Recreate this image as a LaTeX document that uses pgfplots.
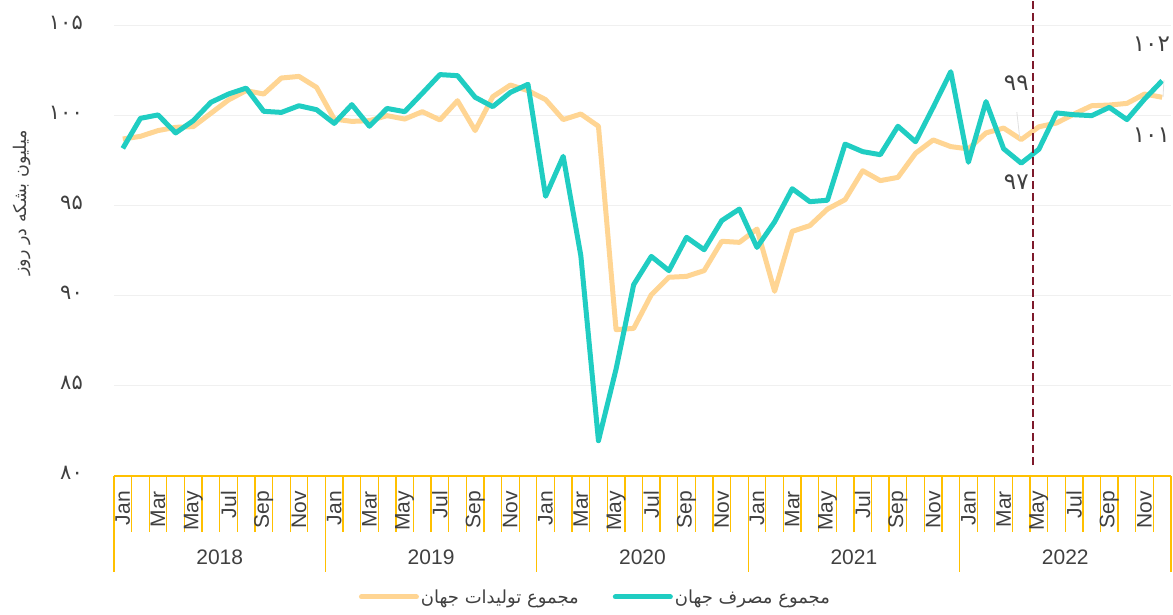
\documentclass[border=0pt]{standalone}
\usepackage{fontspec}
\setmainfont{Liberation Sans}
\newfontfamily\fa[Script=Arabic]{DejaVu Sans}
\TeXXeTstate=1
\usepackage{pgfplots}
\pgfplotsset{compat=1.18}
\definecolor{gold}{HTML}{FFC000}
\definecolor{teal2}{HTML}{20CDC2}
\definecolor{peach}{HTML}{FFD593}
\definecolor{maroon}{HTML}{7E1A2C}
\definecolor{txt}{HTML}{404040}
\begin{document}
\begin{tikzpicture}
\begin{axis}[
 scale only axis, width=1057pt, height=450pt,
 xmin=-0.5, xmax=59.5, ymin=80, ymax=105,
 axis line style={draw=none},
 ytick={80,85,90,95,100,105},
 yticklabels={۸۰,۸۵,۹۰,۹۵,۱۰۰,۱۰۵},
 yticklabel style={font=\fa\fontsize{21}{24}\selectfont, text=txt, anchor=east, inner sep=0pt, xshift=-31pt, yshift=3pt},
 ymajorgrids, grid style={draw=black!6, line width=1pt},
 major tick length=0pt, tick style={draw=none},
 xtick=\empty,
 ylabel={\fa\fontsize{17.5}{20}\selectfont\beginR میلیون بشکه در روز\endR},
 every axis y label/.style={at={(axis description cs:-0.087,0.607)}, rotate=90, anchor=center, text=txt},
 clip=false,
 legend columns=2,
 legend style={at={(axis description cs:0.4555,0)}, anchor=center, yshift=-121pt, draw=none, fill=none, font=\fa\fontsize{18}{21}\selectfont, text=txt, /tikz/every even column/.append style={column sep=32pt}},
 legend image code/.code={\draw[#1, line cap=round] (0pt,0pt) -- (55pt,0pt);},
]
\addplot[peach, line width=5pt, line join=round] coordinates {
(0,98.72) (1,98.87) (2,99.19) (3,99.37) (4,99.41) (5,100.15) (6,100.89) (7,101.41) (8,101.22) (9,102.11)
(10,102.2) (11,101.59) (12,99.83) (13,99.7) (14,99.74) (15,100.02) (16,99.83) (17,100.24) (18,99.78) (19,100.85)
(20,99.19) (21,101.07) (22,101.72) (23,101.41) (24,100.91) (25,99.8) (26,100.11) (27,99.43) (28,88.13) (29,88.2)
(30,90.07) (31,91.04) (32,91.09) (33,91.41) (34,93.04) (35,92.98) (36,93.72) (37,90.26) (38,93.59) (39,93.91)
(40,94.83) (41,95.35) (42,96.96) (43,96.41) (44,96.59) (45,97.93) (46,98.67) (47,98.3) (48,98.17) (49,99.06)
(50,99.33) (51,98.69) (52,99.4) (53,99.61) (54,100.11) (55,100.57) (56,100.61) (57,100.7) (58,101.22) (59,101.04)
};
\addlegendentry{\beginR مجموع تولیدات جهان\endR}
\addplot[teal2, line width=5pt, line join=round] coordinates {
(0,98.2) (1,99.87) (2,100.06) (3,99.06) (4,99.74) (5,100.76) (6,101.22) (7,101.55) (8,100.26) (9,100.2)
(10,100.57) (11,100.35) (12,99.59) (13,100.63) (14,99.43) (15,100.42) (16,100.24) (17,101.26) (18,102.3) (19,102.24)
(20,101.04) (21,100.52) (22,101.31) (23,101.76) (24,95.54) (25,97.76) (26,92.24) (27,81.96) (28,85.94) (29,90.63)
(30,92.2) (31,91.41) (32,93.26) (33,92.57) (34,94.19) (35,94.83) (36,92.7) (37,94.12) (38,95.96) (39,95.24)
(40,95.32) (41,98.44) (42,98.02) (43,97.85) (44,99.43) (45,98.57) (46,100.48) (47,102.46) (48,97.43) (49,100.8)
(50,98.18) (51,97.38) (52,98.15) (53,100.17) (54,100.07) (55,100.02) (56,100.48) (57,99.8) (58,100.94) (59,101.96)
};
\addlegendentry{\beginR مجموع مصرف جهان\endR}
\pgfplotsextra{
 \draw[gold, line width=1.5pt] (axis cs:-0.5,80) -- (axis cs:59.5,80);
 \foreach \b in {-0.5,0.5,...,59.5} {\draw[gold, line width=1.3pt] (axis cs:\b,80) -- ++(0pt,-56pt);}
 \foreach \b in {-0.5,11.5,23.5,35.5,47.5,59.5} {\draw[gold, line width=1.3pt] (axis cs:\b,80) -- ++(0pt,-96pt);}
 \foreach \x/\m in {0/Jan,2/Mar,4/May,6/Jul,8/Sep,10/Nov} {
   \foreach \y in {0,12,24,36,48} {
     \pgfmathsetmacro\xx{\x+\y}
     \path (axis cs:\xx,80) ++(0pt,-15pt) node[rotate=90, anchor=east, inner sep=0pt, font=\fontsize{21}{24}\selectfont, text=txt] {\m};
   }
 }
 \foreach \c/\yr in {5.5/2018,17.5/2019,29.5/2020,41.5/2021,53.5/2022} {
   \path (axis cs:\c,80) ++(0pt,-81pt) node[font=\fontsize{21}{24}\selectfont, text=txt] {\yr};
 }
 \draw[maroon, line width=2.2pt, dash pattern=on 8pt off 4pt] (axis cs:51.66,80.6) -- (axis cs:51.66,106.44);
 \draw[black!12, line width=0.8pt] (axis cs:50.75,100.22) -- (axis cs:50.92,98.72);
 \draw[black!12, line width=0.8pt] (axis cs:59.05,101.05) -- (axis cs:59.1,102.0);
 \node[font=\fa\fontsize{23}{26}\selectfont, text=txt, anchor=east, inner sep=0pt] at (axis cs:51.43,101.8) {۹۹};
 \node[font=\fa\fontsize{23}{26}\selectfont, text=txt, anchor=east, inner sep=0pt] at (axis cs:51.43,96.3) {۹۷};
 \node[font=\fa\fontsize{23}{26}\selectfont, text=txt, anchor=east, inner sep=0pt] at (axis cs:59.45,104) {۱۰۲};
 \node[font=\fa\fontsize{23}{26}\selectfont, text=txt, anchor=east, inner sep=0pt] at (axis cs:59.45,98.94) {۱۰۱};
}
\end{axis}
\pgfresetboundingbox
\useasboundingbox (-114pt,-139pt) rectangle (1059pt,476pt);
\end{tikzpicture}
\end{document}
